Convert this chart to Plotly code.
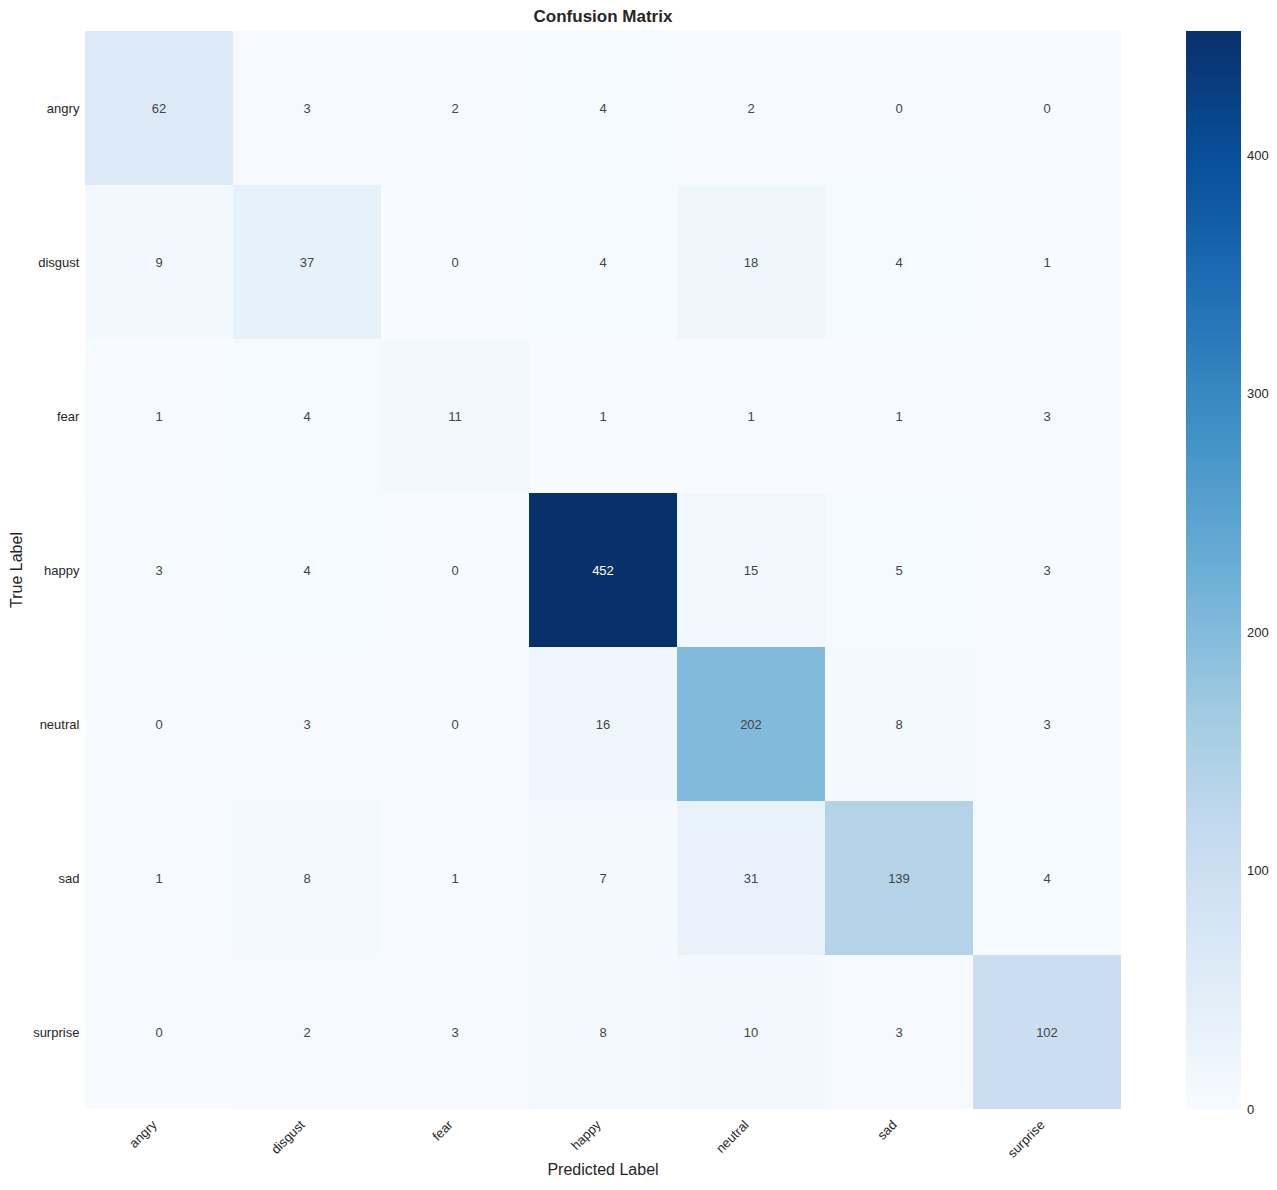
import plotly.graph_objects as go

# Class labels and counts (rows = true label, cols = predicted label)
labels = ['angry', 'disgust', 'fear', 'happy', 'neutral', 'sad', 'surprise']
counts = [
    [62, 3, 2, 4, 2, 0, 0],
    [9, 37, 0, 4, 18, 4, 1],
    [1, 4, 11, 1, 1, 1, 3],
    [3, 4, 0, 452, 15, 5, 3],
    [0, 3, 0, 16, 202, 8, 3],
    [1, 8, 1, 7, 31, 139, 4],
    [0, 2, 3, 8, 10, 3, 102],
]
cbar_ticks = [0, 100, 200, 300, 400]

# matplotlib / colorbrewer Blues
blues = ['#f7fbff', '#deebf7', '#c6dbef', '#9ecae1', '#6baed6',
         '#4292c6', '#2171b5', '#08519c', '#08306b']
colorscale = [[i / (len(blues) - 1), c] for i, c in enumerate(blues)]

fig = go.Figure(go.Heatmap(
    z=counts, x=labels, y=labels,
    colorscale=colorscale, zmin=0, zmax=max(max(r) for r in counts),
    texttemplate='%{z}', textfont=dict(size=13),
    colorbar=dict(x=1.0627, xanchor='left', thickness=55, len=1, y=0.5,
                  ypad=0, xpad=0, outlinewidth=0, tickvals=cbar_ticks,
                  ticks='outside', ticklen=4, tickcolor='rgba(0,0,0,0)',
                  tickfont=dict(size=13, color='#262626')),
))

# the page body adds an 8px offset, so the figure is 8px smaller
fig.update_layout(
    width=1269, height=1182,
    margin=dict(l=77, r=156, t=23, b=81, autoexpand=False),
    font=dict(family='Liberation Sans, Arial, sans-serif', color='#262626'),
    paper_bgcolor='white', plot_bgcolor='white',
    title=dict(text='<b>Confusion Matrix</b>', x=0.5, xanchor='center',
               xref='paper', y=0.9932, yanchor='middle',
               font=dict(size=17, color='#262626')),
)
fig.update_xaxes(title=dict(text='Predicted Label', font=dict(size=16), standoff=4),
                 tickangle=-45, tickfont=dict(size=13), showgrid=False,
                 zeroline=False, ticks='outside', ticklen=2, ticklabelshift=-6,
                 tickcolor='rgba(0,0,0,0)', automargin=False)
fig.update_yaxes(title=dict(text='True Label', font=dict(size=16), standoff=8),
                 autorange='reversed', tickfont=dict(size=13), showgrid=False,
                 zeroline=False, ticks='outside', ticklen=2,
                 tickcolor='rgba(0,0,0,0)', automargin=False)

fig.write_html("out.html")
